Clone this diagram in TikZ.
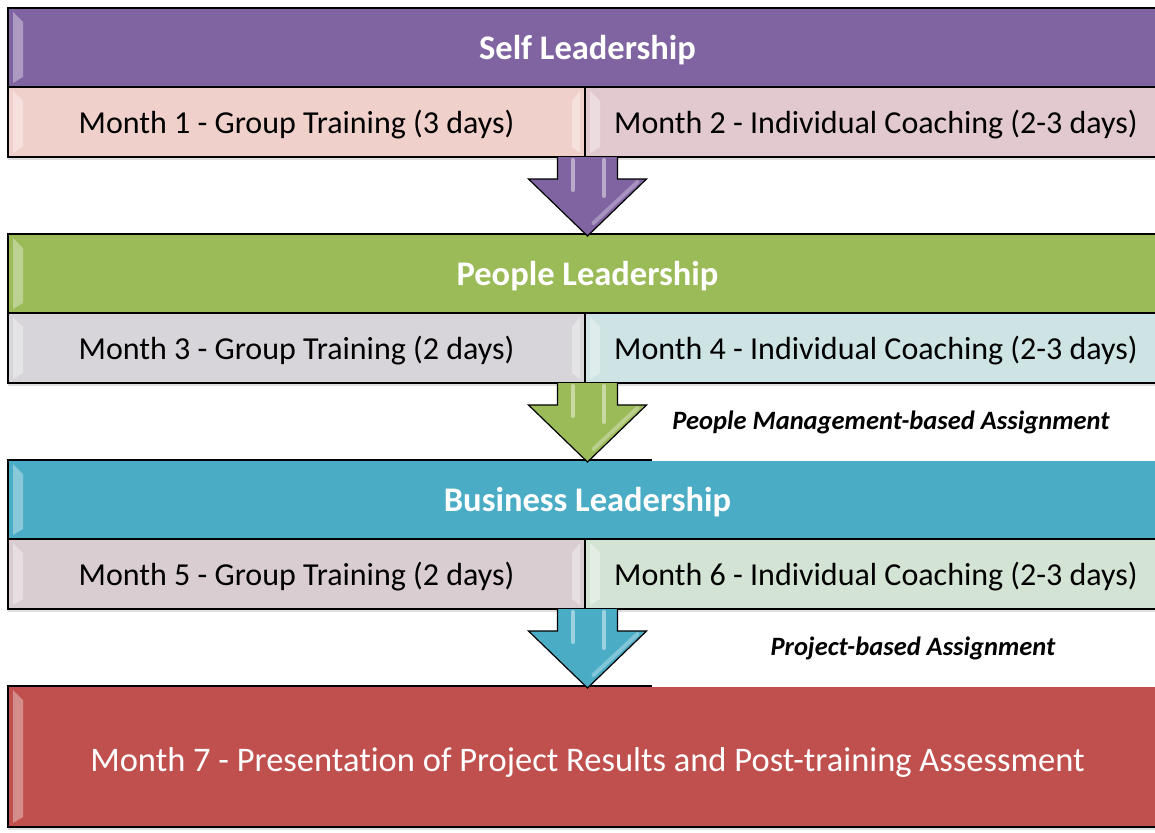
\documentclass[tikz,border=0pt]{standalone}
\usepackage{fontspec}
\setmainfont[Ligatures=CommonOff]{Carlito}
\usetikzlibrary{positioning,calc,shadows}

\definecolor{selfc}{HTML}{8064A2}
\definecolor{peoplec}{HTML}{9BBB59}
\definecolor{bizc}{HTML}{4BACC6}
\definecolor{finalc}{HTML}{C0504D}
\definecolor{mone}{RGB}{240,208,203}
\definecolor{mtwo}{RGB}{226,201,207}
\definecolor{mthree}{RGB}{215,212,218}
\definecolor{mfour}{RGB}{206,227,227}
\definecolor{mfive}{RGB}{217,205,210}
\definecolor{msix}{RGB}{211,228,212}

\tikzset{
	header/.style={draw=black, line width=1.5pt, outer sep=0pt, inner sep=0pt,
		minimum width=1159pt, minimum height=79pt, text=white,
		text height=30pt, text depth=6.8pt,
		font=\fontsize{34.5}{40}\selectfont\bfseries},
	cell/.style={draw=black, line width=1.5pt, outer sep=0pt, inner sep=0pt,
		minimum height=70pt, font=\fontsize{32}{38}\selectfont,
		text height=28pt, text depth=6pt,
		drop shadow={opacity=0.25, shadow xshift=0pt, shadow yshift=-3pt}},
	final/.style={cell, minimum width=1159pt, minimum height=141pt, text=white,
		text height=36pt, text depth=6.8pt, font=\fontsize{34.5}{40}\selectfont},
	note/.style={font=\fontsize{26.5}{31}\selectfont\bfseries\itshape},
	arrowbody/.style={draw=black, line width=1.2pt, line join=miter},
	gloss/.style={draw=white, line width=4pt, opacity=0.45, line cap=round},
	bevel/.style={fill=white, fill opacity=0.35},
}

% light strips along the inner edges of a box
\newcommand\bevelleft[1]{%
	\fill[bevel] ($(#1.north west)+(5,4)$) -- ($(#1.north west)+(15,14)$)
		-- ($(#1.south west)+(15,-10)$) -- ($(#1.south west)+(5,-4)$) -- cycle;}
\newcommand\bevelright[1]{%
	\fill[bevel] ($(#1.north east)+(-5,4)$) -- ($(#1.north east)+(-13,14)$)
		-- ($(#1.south east)+(-13,-10)$) -- ($(#1.south east)+(-5,-4)$) -- cycle;}

% block arrow from a row down to the next header
\newcommand\flowarrow[3]{%
	\coordinate (top) at (#2.north |- #1.south);
	\draw[arrowbody, fill=#3] ($(top)+(-30,0)$) -- ++(0,22) -- ++(-29,0)
		-- ($(#2.north)+(0,2)$) -- ($(top)+(59,22)$) -- ++(-29,0) -- ++(0,-22);
	\draw[gloss] ($(top)+(-15,3)$) -- ++(0,30);
	\draw[gloss] ($(top)+(16,3)$) -- ++(0,36);
	\draw[gloss, opacity=0.3] ($(top)+(50,25)$) -- ($(top)+(6,66)$);}

\begin{document}
\begin{tikzpicture}[x=1pt, y=-1pt]
	\useasboundingbox (0,0) rectangle (1155,832);
	\clip (0,0) rectangle (1155,832);

	\node[header, fill=selfc] (self) at (587.5,47.5) {Self Leadership};
	\node[cell, fill=mone, minimum width=577pt, below right=0pt and 0pt of self.south west] (m1) {Month 1 - Group Training (3 days)};
	\node[cell, fill=mtwo, minimum width=582pt, right=0pt of m1] (m2) {Month 2 - Individual Coaching (2-3 days)};

	\node[header, fill=peoplec, below=147pt of self] (people) {People Leadership};
	\node[cell, fill=mthree, minimum width=577pt, below right=0pt and 0pt of people.south west] (m3) {Month 3 - Group Training (2 days)};
	\node[cell, fill=mfour, minimum width=582pt, right=0pt of m3] (m4) {Month 4 - Individual Coaching (2-3 days)};

	\node[header, fill=bizc, below=147pt of people] (biz) {Business Leadership};
	\node[cell, fill=mfive, minimum width=577pt, below right=0pt and 0pt of biz.south west] (m5) {Month 5 - Group Training (2 days)};
	\node[cell, fill=msix, minimum width=582pt, right=0pt of m5] (m6) {Month 6 - Individual Coaching (2-3 days)};

	\node[final, fill=finalc, below=147pt of biz] (m7) {Month 7 - Presentation of Project Results and Post-training Assessment};

	\foreach \n in {self,m1,m2,people,m3,m4,biz,m5,m6,m7} {\bevelleft{\n}}
	\foreach \n in {m1,m3,m5} {\bevelright{\n}}

	% assignment notes sit on a white patch over the header edge
	\fill[white] ($(biz.north)+(64.5,-66)$) rectangle ($(biz.north east)+(5,0.8)$);
	\fill[white] ($(m7.north)+(64.5,-66)$) rectangle ($(m7.north east)+(5,0.8)$);
	\node[note] (pma) at (891,422) {People Management-based Assignment};
	\node[note] (pba) at (913,648) {Project-based Assignment};

	\flowarrow{m1}{people}{selfc}
	\flowarrow{m3}{biz}{peoplec}
	\flowarrow{m5}{m7}{bizc}
\end{tikzpicture}
\end{document}
